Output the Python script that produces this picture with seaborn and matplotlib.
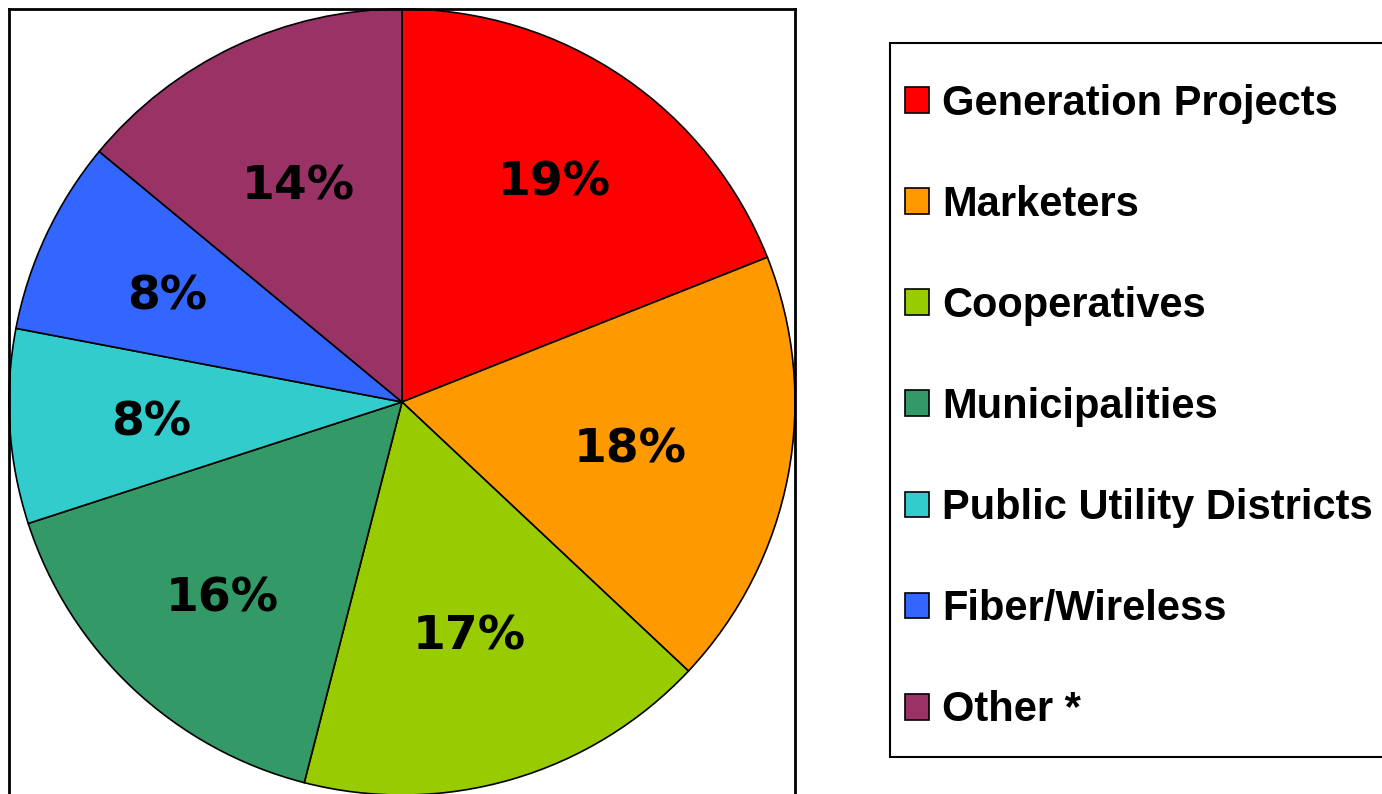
import matplotlib
matplotlib.use("Agg")
import numpy as np
import matplotlib.pyplot as plt
from matplotlib.patches import Rectangle
import seaborn as sns

categories = ["Generation Projects", "Marketers", "Cooperatives", "Municipalities",
              "Public Utility Districts", "Fiber/Wireless", "Other *"]
shares = [19, 18, 17, 16, 8, 8, 14]
colors = ["#FF0000", "#FF9900", "#99CC00", "#339966", "#33CCCC", "#3366FF", "#993366"]
# radial placement of each percentage label (fraction of radius)
label_radius = [0.69, 0.59, 0.61, 0.67, 0.64, 0.66, 0.62]

sns.set_theme(style="white")
plt.rcParams["font.family"] = ["Liberation Sans", "DejaVu Sans"]
plt.rcParams["text.color"] = "black"

W, H = 1382, 794
fig = plt.figure(figsize=(W / 100, H / 100), dpi=100)
fig.patch.set_facecolor("white")

ax = fig.add_axes([9 / W, (H - 795) / H, 786 / W, 786 / H])
wedges, texts, autotexts = ax.pie(
    shares, colors=colors, startangle=90, counterclock=False,
    autopct="%.0f%%", pctdistance=0.64,
    wedgeprops=dict(edgecolor="black", linewidth=1.2),
    textprops=dict(fontsize=34, fontweight="bold", color="black",
                   family="DejaVu Sans"),
)
for w, t, r in zip(wedges, autotexts, label_radius):
    ang = np.deg2rad((w.theta1 + w.theta2) / 2)
    t.set_position((r * np.cos(ang), r * np.sin(ang)))
    t.set_verticalalignment("center_baseline")

ax.set_xlim(-1, 1)
ax.set_ylim(-1, 1)
ax.set_aspect("equal")
ax.set_frame_on(True)
ax.set_xticks([])
ax.set_yticks([])
for s in ax.spines.values():
    s.set_visible(True)
    s.set_color("black")
    s.set_linewidth(2)

# legend box
fig.patches.append(Rectangle((890 / W, 1 - 757 / H), 520 / W, 714 / H,
                             transform=fig.transFigure, facecolor="white",
                             edgecolor="black", linewidth=1.5, zorder=0))
leg = fig.legend(wedges, categories, loc="upper left",
                 bbox_to_anchor=(905 / W, 1 - 84 / H), frameon=False,
                 prop=dict(size=30, weight="bold", family="Liberation Sans"),
                 handlelength=0.58, handleheight=0.58, handletextpad=0.31,
                 labelspacing=1.465, borderpad=0, borderaxespad=0)
for t in leg.get_texts():
    t.set_color("black")

fig.savefig("out.png", dpi=100, facecolor="white")
